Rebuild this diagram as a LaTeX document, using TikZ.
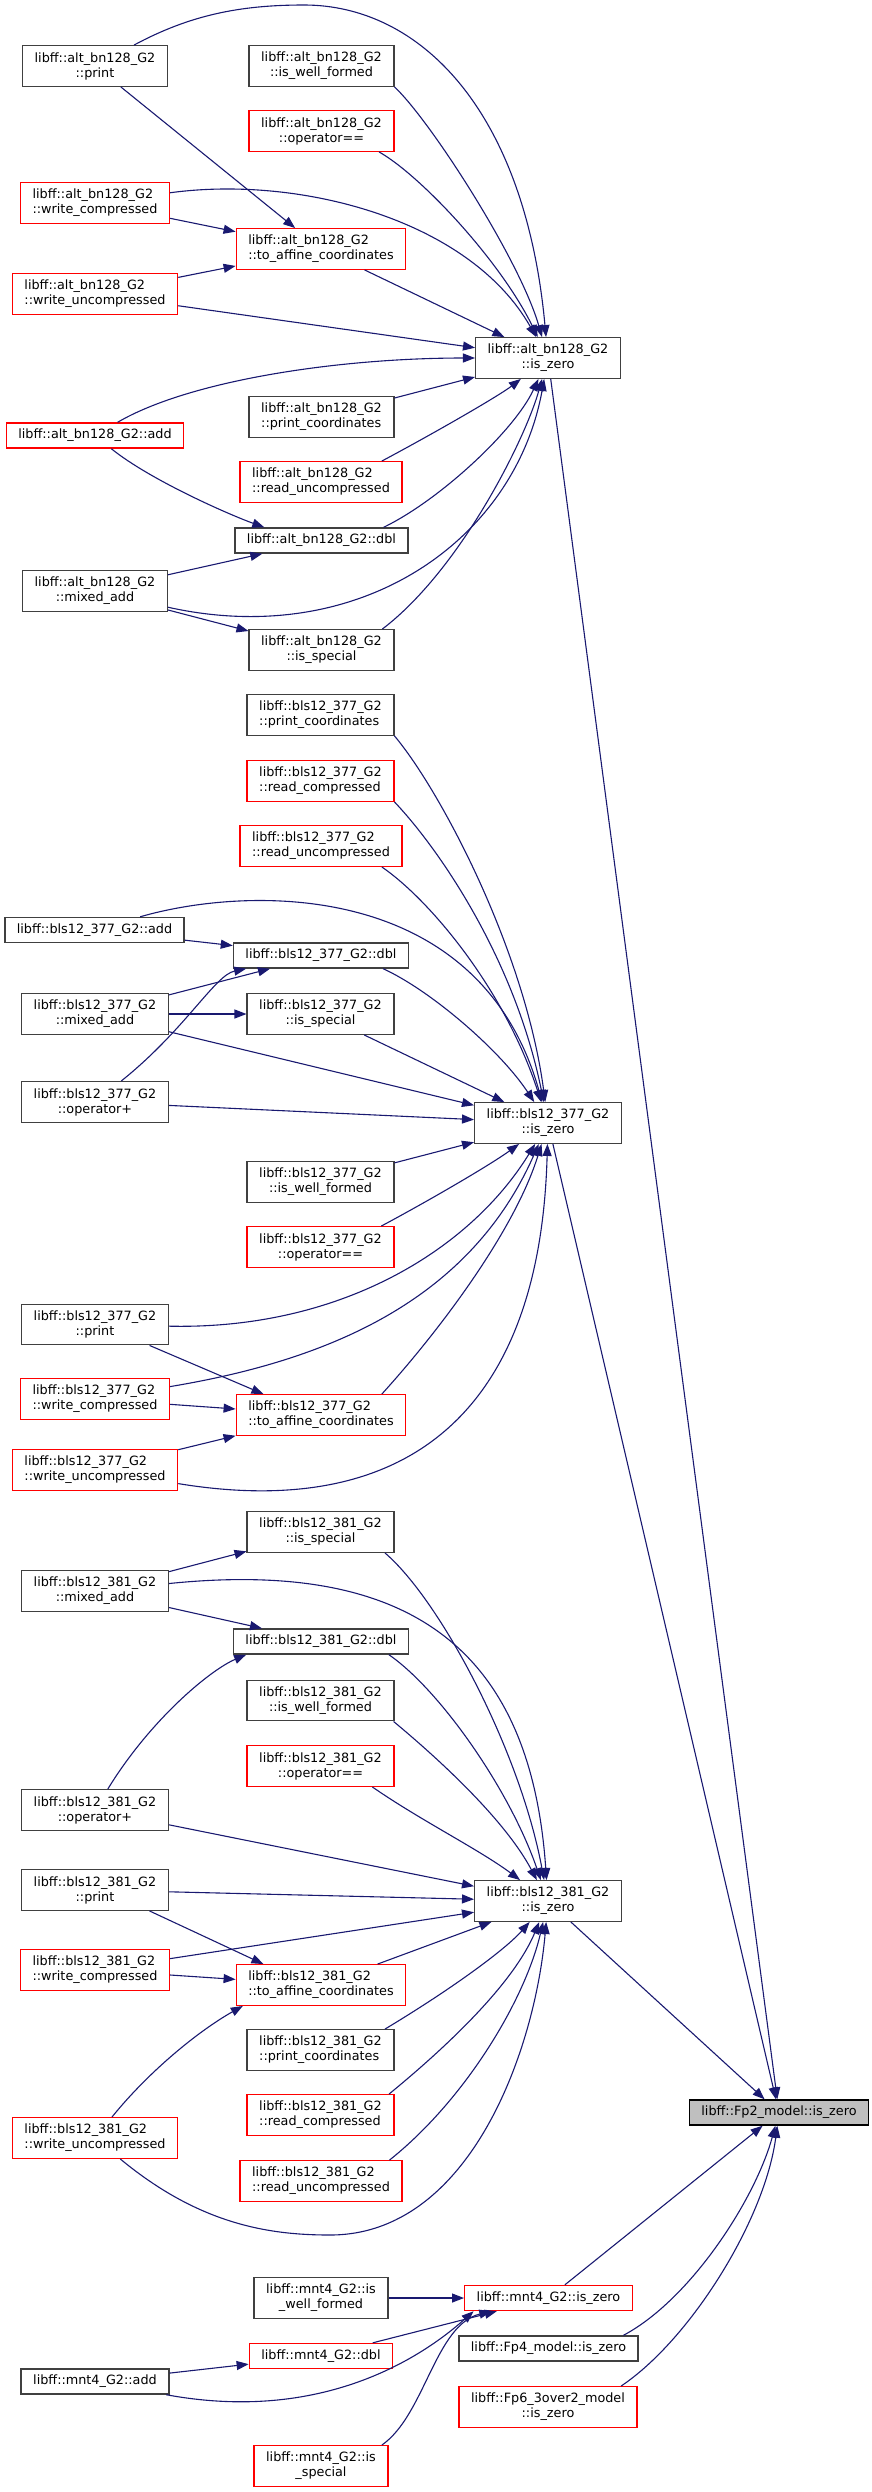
\documentclass[tikz,border=0pt]{standalone}
\usepackage{fontspec}
\setmainfont{DejaVu Sans}
\usepackage{tikz}
\usetikzlibrary{arrows.meta}
\definecolor{edgeblue}{HTML}{191970}
\definecolor{boxgray}{HTML}{404040}
\definecolor{boxred}{HTML}{FF0000}
\definecolor{fillgray}{HTML}{BFBFBF}

\begin{document}
\begin{tikzpicture}[x=1pt,y=-1pt,
    fn/.style={draw=boxgray, line width=1.4pt, fill=white, inner xsep=12pt, inner ysep=0pt,
      minimum height=25pt, font=\fontsize{12.8}{15}\selectfont, align=center},
    two/.style={minimum height=40.5pt},
    trunc/.style={draw=boxred},
    lft/.style={align=left},
    call/.style={draw=edgeblue, line width=1.1pt, -{Triangle[length=12pt,width=9pt]}}]
    \useasboundingbox (0,0) rectangle (871,2492);
    % alt_bn128
    \node[fn,two] (aprint) at (95,66) {libff::alt\_bn128\_G2\\::print};
    \node[fn,two] (awell) at (321.5,66) {libff::alt\_bn128\_G2\\::is\_well\_formed};
    \node[fn,two,trunc] (aeq) at (321.5,131) {libff::alt\_bn128\_G2\\::operator==};
    \node[fn,two,trunc,lft] (awc) at (95,203) {libff::alt\_bn128\_G2\\::write\_compressed};
    \node[fn,two,trunc,lft] (aaff) at (321,249) {libff::alt\_bn128\_G2\\::to\_affine\_coordinates};
    \node[fn,two,trunc,lft] (awu) at (95,294) {libff::alt\_bn128\_G2\\::write\_uncompressed};
    \node[fn,two] (azero) at (548,358) {libff::alt\_bn128\_G2\\::is\_zero};
    \node[fn,two,lft] (apc) at (321.5,417) {libff::alt\_bn128\_G2\\::print\_coordinates};
    \node[fn,trunc] (aadd) at (95,435.5) {libff::alt\_bn128\_G2::add};
    \node[fn,two,trunc,lft] (aru) at (321,482) {libff::alt\_bn128\_G2\\::read\_uncompressed};
    \node[fn] (adbl) at (321.5,540.5) {libff::alt\_bn128\_G2::dbl};
    \node[fn,two] (amix) at (95,591) {libff::alt\_bn128\_G2\\::mixed\_add};
    \node[fn,two] (aspec) at (321.5,650) {libff::alt\_bn128\_G2\\::is\_special};
    % bls12_377
    \node[fn,two,lft] (bpc) at (320.5,715) {libff::bls12\_377\_G2\\::print\_coordinates};
    \node[fn,two,trunc,lft] (brc) at (320.5,781) {libff::bls12\_377\_G2\\::read\_compressed};
    \node[fn,two,trunc,lft] (bru) at (321,846) {libff::bls12\_377\_G2\\::read\_uncompressed};
    \node[fn] (badd) at (94.5,930) {libff::bls12\_377\_G2::add};
    \node[fn] (bdbl) at (321,955.5) {libff::bls12\_377\_G2::dbl};
    \node[fn,two] (bmix) at (95,1014) {libff::bls12\_377\_G2\\::mixed\_add};
    \node[fn,two] (bspec) at (320.5,1014) {libff::bls12\_377\_G2\\::is\_special};
    \node[fn,two] (bplus) at (95,1102) {libff::bls12\_377\_G2\\::operator+};
    \node[fn,two] (bzero) at (548,1123) {libff::bls12\_377\_G2\\::is\_zero};
    \node[fn,two] (bwell) at (320.5,1182) {libff::bls12\_377\_G2\\::is\_well\_formed};
    \node[fn,two,trunc] (beq) at (320.5,1247) {libff::bls12\_377\_G2\\::operator==};
    \node[fn,two] (bprint) at (95,1324.5) {libff::bls12\_377\_G2\\::print};
    \node[fn,two,trunc,lft] (bwc) at (95,1399) {libff::bls12\_377\_G2\\::write\_compressed};
    \node[fn,two,trunc,lft] (baff) at (321,1415) {libff::bls12\_377\_G2\\::to\_affine\_coordinates};
    \node[fn,two,trunc,lft] (bwu) at (95,1470) {libff::bls12\_377\_G2\\::write\_uncompressed};
    % bls12_381
    \node[fn,two] (cspec) at (320.5,1532) {libff::bls12\_381\_G2\\::is\_special};
    \node[fn,two] (cmix) at (95,1591) {libff::bls12\_381\_G2\\::mixed\_add};
    \node[fn] (cdbl) at (321,1641.5) {libff::bls12\_381\_G2::dbl};
    \node[fn,two] (cwell) at (320.5,1700.5) {libff::bls12\_381\_G2\\::is\_well\_formed};
    \node[fn,two,trunc] (ceq) at (320.5,1766) {libff::bls12\_381\_G2\\::operator==};
    \node[fn,two] (cplus) at (95,1810) {libff::bls12\_381\_G2\\::operator+};
    \node[fn,two] (cprint) at (95,1890) {libff::bls12\_381\_G2\\::print};
    \node[fn,two] (czero) at (548,1901) {libff::bls12\_381\_G2\\::is\_zero};
    \node[fn,two,trunc,lft] (cwc) at (95,1970) {libff::bls12\_381\_G2\\::write\_compressed};
    \node[fn,two,trunc,lft] (caff) at (321,1985) {libff::bls12\_381\_G2\\::to\_affine\_coordinates};
    \node[fn,two,lft] (cpc) at (320.5,2050) {libff::bls12\_381\_G2\\::print\_coordinates};
    \node[fn,two,trunc,lft] (crc) at (320.5,2115) {libff::bls12\_381\_G2\\::read\_compressed};
    \node[fn,two,trunc,lft] (cwu) at (95,2138) {libff::bls12\_381\_G2\\::write\_uncompressed};
    \node[fn,two,trunc,lft] (cru) at (321,2181) {libff::bls12\_381\_G2\\::read\_uncompressed};
    % Fp2 and mnt4
    \node[fn,fill=fillgray,draw=black] (fp2) at (779,2112.5) {libff::Fp2\_model::is\_zero};
    \node[fn,two] (mwell) at (321,2298) {libff::mnt4\_G2::is\\\_well\_formed};
    \node[fn,trunc] (mzero) at (548.5,2298) {libff::mnt4\_G2::is\_zero};
    \node[fn] (fp4) at (548.5,2348.5) {libff::Fp4\_model::is\_zero};
    \node[fn,trunc] (mdbl) at (321,2356) {libff::mnt4\_G2::dbl};
    \node[fn] (madd) at (95,2381.5) {libff::mnt4\_G2::add};
    \node[fn,two,trunc] (fp6) at (548,2407) {libff::Fp6\_3over2\_model\\::is\_zero};
    \node[fn,two,trunc] (mspec) at (321,2466) {libff::mnt4\_G2::is\\\_special};

    % calls into alt_bn128 is_zero
    \draw[call] (aprint) .. controls (190,15) and (240,5) .. (304,5) .. controls (420,5) and (525,110) .. (azero);
    \draw[call] (aprint) -- (aaff);
    \draw[call] (awell.south east) .. controls (430,120) and (520,260) .. (azero);
    \draw[call] (aeq.-20) .. controls (420,175) and (500,260) .. (azero);
    \draw[call] (awc) .. controls (300,175) and (470,220) .. (azero);
    \draw[call] (awc) -- (aaff);
    \draw[call] (aaff) -- (azero);
    \draw[call] (awu) -- (aaff);
    \draw[call] (awu) -- (azero);
    \draw[call] (aadd) .. controls (190,380) and (340,358) .. (azero);
    \draw[call] (aadd) .. controls (150,480) and (230,515) .. (adbl.167);
    \draw[call] (apc) -- (azero);
    \draw[call] (aru.19) .. controls (440,430) and (500,395) .. (azero);
    \draw[call] (adbl.12) .. controls (440,500) and (515,430) .. (azero);
    \draw[call] (amix) -- (adbl);
    \draw[call] (amix) .. controls (360,650) and (515,540) .. (azero);
    \draw[call] (amix) -- (aspec);
    \draw[call] (aspec.19) .. controls (460,570) and (525,440) .. (azero);
    \draw[call] (azero) -- (fp2);
    % calls into bls12_377 is_zero
    \draw[call] (bpc.south east) .. controls (440,790) and (525,950) .. (bzero);
    \draw[call] (brc.south east) .. controls (440,850) and (515,960) .. (bzero);
    \draw[call] (bru.-19) .. controls (430,900) and (505,990) .. (bzero);
    \draw[call] (badd) .. controls (250,885) and (480,880) .. (bzero);
    \draw[call] (badd) -- (bdbl);
    \draw[call] (bmix) -- (bdbl);
    \draw[call] (bmix) -- (bspec);
    \draw[call] (bmix) -- (bzero);
    \draw[call] (bplus) .. controls (185,1030) and (215,975) .. (bdbl.190);
    \draw[call] (bplus) -- (bzero);
    \draw[call] (bdbl.-12) .. controls (430,990) and (500,1050) .. (bzero);
    \draw[call] (bspec) -- (bzero);
    \draw[call] (bwell) -- (bzero);
    \draw[call] (beq.19) .. controls (430,1200) and (490,1165) .. (bzero);
    \draw[call] (bprint) .. controls (340,1330) and (470,1250) .. (bzero);
    \draw[call] (bprint.-21) -- (baff.160);
    \draw[call] (bwc) .. controls (330,1360) and (470,1300) .. (bzero);
    \draw[call] (bwc) -- (baff);
    \draw[call] (baff.19) .. controls (440,1330) and (515,1230) .. (bzero);
    \draw[call] (bwu) -- (baff);
    \draw[call] (bwu) .. controls (400,1520) and (540,1420) .. (bzero);
    \draw[call] (bzero) -- (fp2);
    % calls into bls12_381 is_zero
    \draw[call] (cspec.-18) .. controls (440,1600) and (520,1750) .. (czero);
    \draw[call] (cmix) -- (cspec);
    \draw[call] (cmix) .. controls (400,1560) and (530,1640) .. (czero);
    \draw[call] (cmix) -- (cdbl);
    \draw[call] (cdbl.-11) .. controls (440,1690) and (510,1790) .. (czero);
    \draw[call] (cwell.-16) .. controls (440,1760) and (505,1820) .. (czero);
    \draw[call] (ceq.-22) .. controls (420,1820) and (480,1850) .. (czero);
    \draw[call] (cplus) .. controls (150,1720) and (210,1670) .. (cdbl.190);
    \draw[call] (cplus) -- (czero);
    \draw[call] (cprint) -- (czero);
    \draw[call] (cprint.-21) -- (caff.160);
    \draw[call] (cwc) -- (czero);
    \draw[call] (cwc) -- (caff);
    \draw[call] (caff) -- (czero);
    \draw[call] (cwu) .. controls (150,2070) and (200,2030) .. (caff.195);
    \draw[call] (cwu) .. controls (200,2225) and (270,2235) .. (330,2235) .. controls (470,2235) and (535,2050) .. (czero);
    \draw[call] (cpc.18) .. controls (450,1990) and (505,1950) .. (czero);
    \draw[call] (crc.17) .. controls (455,2040) and (515,1980) .. (czero);
    \draw[call] (cru.17) .. controls (465,2100) and (525,2000) .. (czero);
    \draw[call] (czero) -- (fp2);
    % mnt4 and the rest
    \draw[call] (mwell) -- (mzero);
    \draw[call] (mdbl) -- (mzero);
    \draw[call] (madd) -- (mdbl);
    \draw[call] (madd) .. controls (330,2425) and (430,2350) .. (mzero.190);
    \draw[call] (mspec.19) .. controls (425,2415) and (435,2325) .. (mzero.193);
    \draw[call] (mzero) -- (fp2);
    \draw[call] (fp4.10) .. controls (690,2300) and (755,2200) .. (fp2);
    \draw[call] (fp6.16) .. controls (690,2340) and (765,2220) .. (fp2);
\end{tikzpicture}
\end{document}
